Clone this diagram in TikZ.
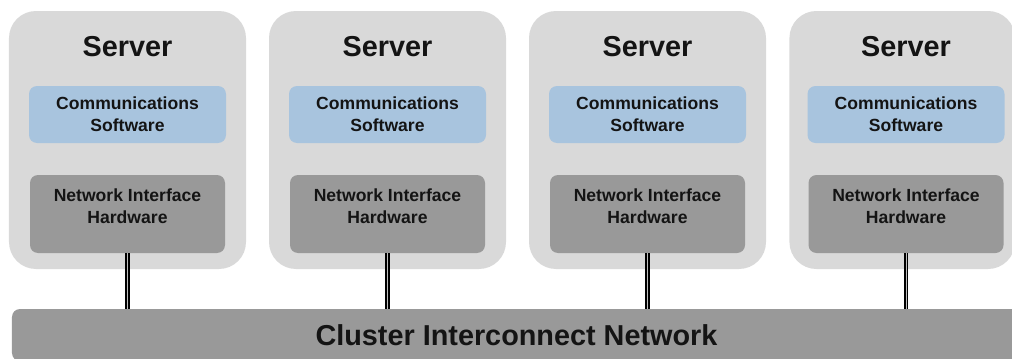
\documentclass[tikz,border=0pt]{standalone}
\usepackage{fontspec}
\setmainfont{Liberation Sans}
\usetikzlibrary{positioning}
\definecolor{srvgray}{RGB}{217,217,217}
\definecolor{commblue}{RGB}{168,196,222}
\definecolor{nicgray}{RGB}{153,153,153}
\definecolor{txt}{RGB}{20,20,20}

\begin{document}
\begin{tikzpicture}[scale=1.0, every node/.style={scale=1.0},
		server/.style={fill=srvgray,rounded corners=0.675cm,minimum width=5.925cm,minimum height=6.45cm,inner sep=0,outer sep=0},
		srvtitle/.style={inner sep=0,outer sep=0,text=txt,font=\fontsize{20.5}{24}\selectfont\bfseries},
		comm/.style={fill=commblue,rounded corners=0.2cm,minimum width=4.925cm,minimum height=1.425cm,inner sep=0,outer sep=0,align=center,text=txt,font=\fontsize{12.5}{15.5}\selectfont\bfseries},
		nic/.style={comm,fill=nicgray,minimum width=4.875cm,minimum height=1.95cm,text depth=0.4cm},
		net/.style={fill=nicgray,rounded corners=0.2cm,minimum width=25.225cm,minimum height=1.3cm,inner sep=0,outer sep=0,text=txt,font=\fontsize{20.5}{24}\selectfont\bfseries},
		link/.style={draw=black,line width=1.2pt,double=gray!50,double distance=0.7pt}]
		\useasboundingbox (0,0) rectangle (25.3,-8.975);

		\node[server] (srv1) at (3.1875,-3.5) {};
		\node[server] (srv2) at (9.6875,-3.5) {};
		\node[server] (srv3) at (16.1875,-3.5) {};
		\node[server,minimum width=5.64cm] (srv4) at (22.556,-3.5) {};

		\node[srvtitle,below=0.625cm of srv1.north] (title1) {Server};
		\node[srvtitle,below=0.625cm of srv2.north] (title2) {Server};
		\node[srvtitle,below=0.625cm of srv3.north] (title3) {Server};
		\node[srvtitle,below=0.625cm of srv4.north,xshift=0.094cm] (title4) {Server};

		\node[comm,below=1.875cm of srv1.north] (comm1) {Communications\\Software};
		\node[comm,below=1.875cm of srv2.north] (comm2) {Communications\\Software};
		\node[comm,below=1.875cm of srv3.north] (comm3) {Communications\\Software};
		\node[comm,below=1.875cm of srv4.north,xshift=0.094cm] (comm4) {Communications\\Software};

		\node[nic,below=0.8cm of comm1] (nic1) {Network Interface\\Hardware};
		\node[nic,below=0.8cm of comm2] (nic2) {Network Interface\\Hardware};
		\node[nic,below=0.8cm of comm3] (nic3) {Network Interface\\Hardware};
		\node[nic,below=0.8cm of comm4] (nic4) {Network Interface\\Hardware};

		\node[net] (net) at (12.9125,-8.375) {Cluster Interconnect Network};

		% links down to the network.
		\draw[link] (nic1.south) -- (nic1.south |- net.north);
		\draw[link] (nic2.south) -- (nic2.south |- net.north);
		\draw[link] (nic3.south) -- (nic3.south |- net.north);
		\draw[link] (nic4.south) -- (nic4.south |- net.north);
	\end{tikzpicture}
\end{document}
